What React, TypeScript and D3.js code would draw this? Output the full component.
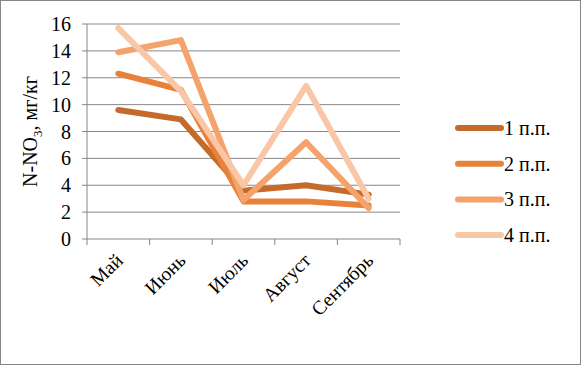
import React from "react";
import * as d3 from "d3";

const months = ["Май", "Июнь", "Июль", "Август", "Сентябрь"];
const seriesNames = ["1 п.п.", "2 п.п.", "3 п.п.", "4 п.п."];
const s1 = [9.6, 8.9, 3.6, 4.0, 3.3];
const s2 = [12.3, 11.1, 2.8, 2.8, 2.5];
const s3 = [13.9, 14.8, 2.9, 7.2, 2.3];
const s4 = [15.7, 11.0, 4.0, 11.4, 3.0];
const yTicks = [0, 2, 4, 6, 8, 10, 12, 14, 16];
const colors = ["#C46A2A", "#E8823A", "#F5A36C", "#F9C7A7"];

const W = 581;
const H = 365;
const font = "'Liberation Serif', 'Times New Roman', serif";

export default function App() {
  const allSeries = [s1, s2, s3, s4];
  const x = d3.scaleBand().domain(months).range([87, 400]);
  const y = d3.scaleLinear().domain([0, 16]).range([239, 24]);
  const line = d3
    .line<number>()
    .x((d, i) => (x(months[i]) as number) + x.bandwidth() / 2)
    .y((d) => y(d));
  const tickXs = months.map((m) => x(m) as number).concat([400]);

  return (
    <svg
      width={W}
      height={H}
      style={{ position: "absolute", left: 0, top: 0, background: "#fff", fontFamily: font }}
    >
      <rect x={0.5} y={0.5} width={W - 1} height={H - 1} fill="#fff" stroke="#868686" />
      {/* grid */}
      {yTicks.map((t) => (
        <g key={t}>
          {t > 0 && (
            <line x1={87} x2={400} y1={y(t)} y2={y(t)} stroke="#878787" strokeWidth={1} />
          )}
          <line x1={82} x2={87} y1={y(t)} y2={y(t)} stroke="#878787" />
          <text x={71} y={y(t)} dy="0.35em" textAnchor="end" fontSize={20} style={{ fontFamily: font }} fill="#000">
            {t}
          </text>
        </g>
      ))}
      <line x1={87} x2={87} y1={24} y2={239} stroke="#878787" />
      <line x1={87} x2={400} y1={239} y2={239} stroke="#878787" />
      {tickXs.map((tx, i) => (
        <line key={i} x1={tx} x2={tx} y1={239} y2={245} stroke="#878787" />
      ))}
      {months.map((m) => {
        const cx = (x(m) as number) + x.bandwidth() / 2 + 1;
        return (
          <text
            key={m}
            transform={`translate(${cx},257) rotate(-45)`}
            textAnchor="end"
            dy="0.35em"
            fontSize={19.5}
            style={{ fontFamily: font }}
            fill="#000"
          >
            {m}
          </text>
        );
      })}
      <text
        transform={`translate(37,${y(8)}) rotate(-90)`}
        textAnchor="middle"
        fontSize={20}
        style={{ fontFamily: font }}
        fill="#000"
      >
        N-NO<tspan dy="5" fontSize={13}>3</tspan>
        <tspan dy="-5">, мг/кг</tspan>
      </text>
      {/* series */}
      {allSeries.map((s, i) => (
        <path
          key={i}
          d={line(s) as string}
          fill="none"
          stroke={colors[i]}
          strokeWidth={6}
          strokeLinejoin="round"
          strokeLinecap="round"
        />
      ))}
      {/* legend */}
      {seriesNames.map((n, i) => {
        const ly = 128 + i * 35.7;
        return (
          <g key={n}>
            <line x1={458} x2={501} y1={ly} y2={ly} stroke={colors[i]} strokeWidth={6} strokeLinecap="round" />
            <text x={504} y={ly} dy="0.35em" fontSize={20} style={{ fontFamily: font }} fill="#000">
              {n}
            </text>
          </g>
        );
      })}
    </svg>
  );
}
